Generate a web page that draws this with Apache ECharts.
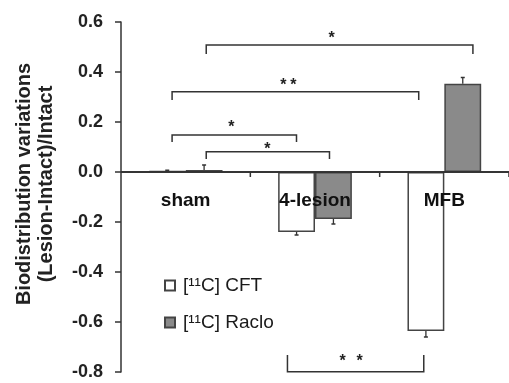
<!DOCTYPE html>
<html>
<head>
<meta charset="utf-8">
<script src="https://cdn.jsdelivr.net/npm/echarts@6/dist/echarts.min.js"></script>
<style>
html,body{margin:0;padding:0;background:#fff;}
#chart{width:509px;height:383px;}
</style>
</head>
<body>
<div id="chart"></div>
<script>
// ---- Data ----
const categories = ['sham', '4-lesion', 'MFB'];
const seriesNames = ['[\u00B9\u00B9C] CFT', '[\u00B9\u00B9C] Raclo'];
const cftValues = [0.004, -0.24, -0.636];
const cftErrors = [0.003, 0.012, 0.024];
const racloValues = [0.008, -0.188, 0.353];
const racloErrors = [0.02, 0.02, 0.025];
const yMin = -0.8, yMax = 0.6, yStep = 0.2;
const yTitle = 'Biodistribution variations\n(Lesion-Intact)/Intact';

// significance brackets (x in category units 0..3, y in data units)
const bracketX1 = [0.659, 0.395, 0.395, 0.659, 1.287];
const bracketX2 = [2.721, 2.302, 1.357, 1.612, 2.341];
const bracketY = [0.508, 0.321, 0.148, 0.081, -0.799];
const bracketTip = [0.472, 0.288, 0.120, 0.052, -0.732];
// significance stars
const starX = [1.628, 1.256, 1.333, 0.853, 1.132, 1.713, 1.845];
const starY = [0.548, 0.360, 0.360, 0.192, 0.104, -0.744, -0.744];

const FONT = 'Liberation Sans, Arial, sans-serif';
const INK = '#333';

const chart = echarts.init(document.getElementById('chart'), null, {renderer: 'canvas'});

const errData = [];
categories.forEach((c, i) => {
  errData.push([i, cftValues[i], cftErrors[i], -1]);
  errData.push([i, racloValues[i], racloErrors[i], 1]);
});
const bracketData = bracketX1.map((x1, i) => [0, bracketY[i], x1, bracketX2[i], bracketTip[i]]);
const starData = starX.map((x, i) => [0, starY[i], x]);
const catLabelData = categories.map((c, i) => [i, 0]);

// convert a position in category units (0..3) to pixels
function catPx(api, u) {
  const band = api.size([1, 0])[0];
  const c0 = api.coord([0, 0])[0];
  return c0 - band / 2 + u * band;
}

const option = {
  animation: false,
  backgroundColor: '#fff',
  grid: {left: 121, right: 0, top: 22, bottom: 11, outerBoundsMode: 'none'},
  legend: {
    data: seriesNames,
    orient: 'vertical',
    left: 164,
    top: 276,
    padding: 0,
    icon: 'rect',
    itemWidth: 10,
    itemHeight: 10,
    itemGap: 18,
    textStyle: {fontSize: 19, color: '#1a1a1a', fontFamily: FONT, padding: [0, 0, 0, 3]}
  },
  graphic: [{
    type: 'text',
    x: 35,
    y: 184,
    rotation: Math.PI / 2,
    style: {
      text: yTitle,
      font: 'bold 20px ' + FONT,
      fill: '#222',
      align: 'center',
      verticalAlign: 'middle',
      lineHeight: 22
    }
  }],
  xAxis: {
    type: 'category',
    data: categories,
    axisLine: {show: false},
    axisTick: {show: false},
    axisLabel: {show: false},
    splitLine: {show: false}
  },
  yAxis: {
    type: 'value',
    min: yMin,
    max: yMax,
    interval: yStep,
    splitLine: {show: false},
    axisLine: {show: true, onZero: false, lineStyle: {color: INK, width: 1.5}},
    axisTick: {show: true, length: 6, lineStyle: {color: INK, width: 1.5}},
    axisLabel: {
      margin: 18,
      fontSize: 18,
      fontWeight: 'bold',
      color: '#222',
      fontFamily: FONT,
      formatter: v => v.toFixed(1)
    }
  },
  series: [{
    name: seriesNames[0],
    type: 'bar',
    data: cftValues,
    barGap: '0%',
    barCategoryGap: '43%',
    itemStyle: {color: '#ffffff', borderColor: '#444', borderWidth: 1.5},
    z: 3,
    markLine: {
      silent: true,
      symbol: 'none',
      label: {show: false},
      lineStyle: {color: INK, width: 1.5, type: 'solid'},
      data: [{yAxis: 0}]
    }
  }, {
    name: seriesNames[1],
    type: 'bar',
    data: racloValues,
    barGap: '0%',
    barCategoryGap: '43%',
    itemStyle: {color: '#8a8a8a', borderColor: '#444', borderWidth: 1.5},
    z: 3
  }, {
    type: 'custom',
    silent: true,
    z: 8,
    data: errData,
    encode: {x: 0, y: 1},
    renderItem: function (params, api) {
      const cat = api.value(0), val = api.value(1), err = api.value(2), side = api.value(3);
      const band = api.size([1, 0])[0];
      const base = api.coord([cat, val]);
      const tip = api.coord([cat, val + (val >= 0 ? err : -err)]);
      const x = base[0] + side * band * 0.1425;
      const cap = 2;
      return {
        type: 'polyline',
        shape: {points: [[x, base[1]], [x, tip[1]], [x - cap, tip[1]], [x + cap, tip[1]]]},
        style: {stroke: INK, lineWidth: 1.3, fill: null}
      };
    }
  }, {
    // brackets; the first item also carries the zero baseline with category boundary ticks
    type: 'custom',
    silent: true,
    z: 9,
    data: bracketData,
    encode: {x: 0, y: 1},
    renderItem: function (params, api) {
      const y = api.coord([0, api.value(1)])[1];
      const yt = api.coord([0, api.value(4)])[1];
      const x1 = catPx(api, api.value(2));
      const x2 = catPx(api, api.value(3));
      const children = [{
        type: 'polyline',
        shape: {points: [[x1, yt], [x1, y], [x2, y], [x2, yt]]},
        style: {stroke: INK, lineWidth: 1.5, fill: null}
      }];
      if (params.dataIndex === 0) {
        const y0 = api.coord([0, 0])[1];
        const xs = catPx(api, 0), xe = catPx(api, categories.length);
        const pts = [[xs, y0]];
        for (let k = 1; k <= categories.length; k++) {
          const xb = catPx(api, k);
          pts.push([xb, y0], [xb, y0 + 5], [xb, y0]);
        }
        children.push({
          type: 'polyline',
          shape: {points: pts},
          style: {stroke: INK, lineWidth: 1.5, fill: null}
        });
        children.push({
          type: 'rect',
          shape: {x: xs, y: y0 - 0.75, width: xe - xs, height: 1.5},
          style: {fill: INK}
        });
      }
      return {type: 'group', children: children};
    }
  }, {
    type: 'custom',
    silent: true,
    z: 6,
    data: starData,
    encode: {x: 0, y: 1},
    renderItem: function (params, api) {
      const y = api.coord([0, api.value(1)])[1];
      const x = catPx(api, api.value(2));
      return {
        type: 'text',
        x: x,
        y: y + 4,
        style: {
          text: '*',
          font: 'bold 16px ' + FONT,
          fill: '#222',
          align: 'center',
          verticalAlign: 'middle'
        }
      };
    }
  }, {
    // category labels placed just below the zero line
    type: 'custom',
    silent: true,
    z: 7,
    data: catLabelData,
    encode: {x: 0, y: 1},
    renderItem: function (params, api) {
      const p = api.coord([api.value(0), api.value(1)]);
      return {
        type: 'text',
        x: p[0],
        y: p[1] + 29,
        style: {
          text: categories[params.dataIndex],
          font: 'bold 19px ' + FONT,
          fill: '#111',
          align: 'center',
          verticalAlign: 'middle'
        }
      };
    }
  }]
};

chart.setOption(option);
</script>
</body>
</html>
